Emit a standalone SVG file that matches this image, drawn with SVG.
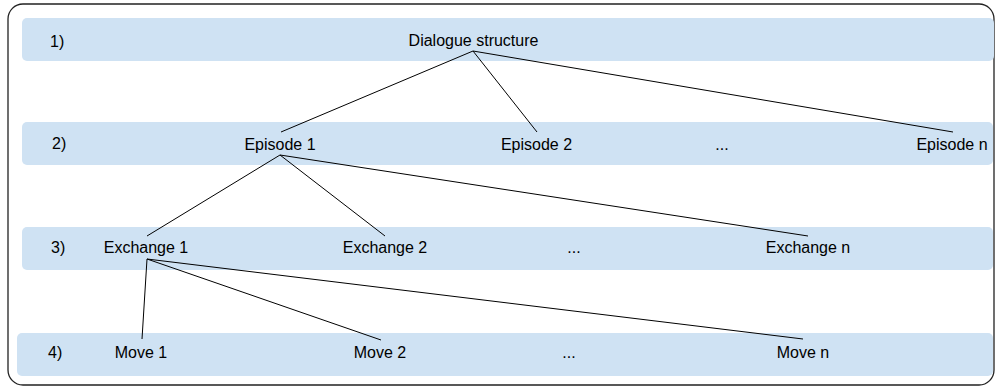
<svg xmlns="http://www.w3.org/2000/svg" width="995" height="387" viewBox="0 0 995 387">
  <style>
    .band { fill: #cfe2f3; }
    .lbl { font-family: "Liberation Sans", Arial, sans-serif; font-size: 16px; fill: #000; }
    .mid { text-anchor: middle; }
    .edge { stroke: #000; stroke-width: 1; fill: none; }
  </style>
  <!-- outer frame -->
  <rect x="8" y="4" width="986" height="381" rx="15" ry="15" fill="#fff" stroke="#222" stroke-width="1.3"/>

  <!-- level bands -->
  <g id="band-1"><rect class="band" x="22" y="18" width="972" height="43" rx="5"/><text class="lbl" x="50" y="47">1)</text></g>
  <g id="band-2"><rect class="band" x="22" y="122" width="971" height="43" rx="5"/><text class="lbl" x="52" y="149">2)</text></g>
  <g id="band-3"><rect class="band" x="22" y="227" width="971" height="43" rx="5"/><text class="lbl" x="51" y="253">3)</text></g>
  <g id="band-4"><rect class="band" x="17" y="333" width="976" height="43" rx="5"/><text class="lbl" x="48" y="358">4)</text></g>

  <!-- connectors -->
  <g id="connectors">
    <line class="edge" x1="473" y1="51" x2="281" y2="132"/>
    <line class="edge" x1="473" y1="51" x2="537" y2="132"/>
    <line class="edge" x1="473" y1="51" x2="953" y2="132"/>
    <line class="edge" x1="280" y1="155" x2="147" y2="236"/>
    <line class="edge" x1="280" y1="155" x2="385" y2="236"/>
    <line class="edge" x1="280" y1="155" x2="808" y2="236"/>
    <line class="edge" x1="147" y1="259" x2="142" y2="339"/>
    <line class="edge" x1="147" y1="259" x2="381" y2="340"/>
    <line class="edge" x1="147" y1="259" x2="803" y2="339"/>
  </g>

  <!-- nodes -->
  <g id="dialogue-structure"><text class="lbl mid" x="473.5" y="46">Dialogue structure</text></g>
  <g id="episode-1"><text class="lbl mid" x="280" y="150">Episode 1</text></g>
  <g id="episode-2"><text class="lbl mid" x="536.5" y="150">Episode 2</text></g>
  <g id="episode-dots"><text class="lbl mid" x="722" y="150">...</text></g>
  <g id="episode-n"><text class="lbl mid" x="952" y="150">Episode n</text></g>
  <g id="exchange-1"><text class="lbl mid" x="146" y="253">Exchange 1</text></g>
  <g id="exchange-2"><text class="lbl mid" x="385" y="253">Exchange 2</text></g>
  <g id="exchange-dots"><text class="lbl mid" x="574" y="253">...</text></g>
  <g id="exchange-n"><text class="lbl mid" x="808" y="253">Exchange n</text></g>
  <g id="move-1"><text class="lbl mid" x="141" y="358">Move 1</text></g>
  <g id="move-2"><text class="lbl mid" x="380" y="358">Move 2</text></g>
  <g id="move-dots"><text class="lbl mid" x="569" y="358">...</text></g>
  <g id="move-n"><text class="lbl mid" x="803" y="358">Move n</text></g>
</svg>
